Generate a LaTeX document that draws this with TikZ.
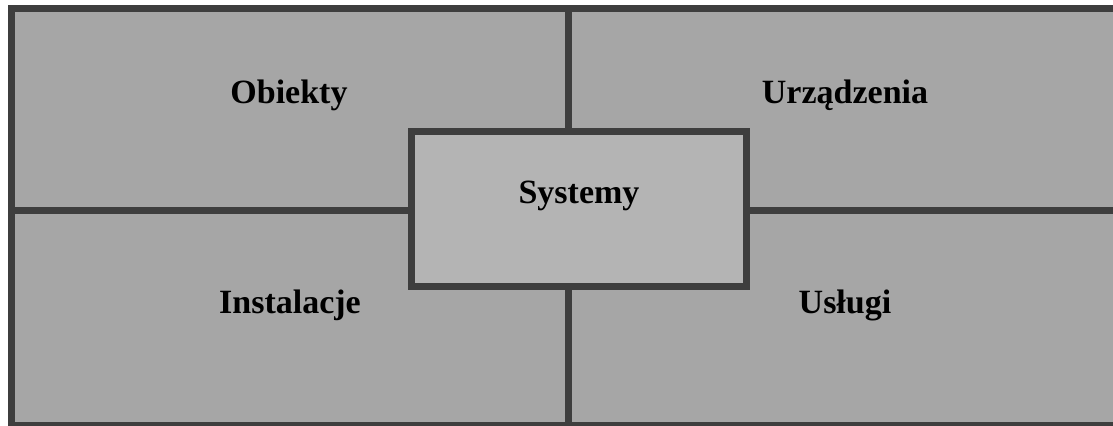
\documentclass[tikz,border=0pt]{standalone}
\usepackage{fontspec}
\setmainfont{Liberation Serif}
\definecolor{bgfill}{RGB}{166,166,166}
\definecolor{boxfill}{RGB}{180,180,180}
\definecolor{edge}{RGB}{62,62,62}
\begin{document}
\begin{tikzpicture}[x=0.5pt,y=-0.5pt,
  frame/.style={draw=edge,line width=3.2pt,fill=bgfill},
  divider/.style={draw=edge,line width=3.2pt},
  centerbox/.style={draw=edge,line width=3.4pt,fill=boxfill,minimum width=335*0.5pt,minimum height=155*0.5pt,inner sep=0pt},
  lbl/.style={font=\fontsize{17}{20}\selectfont\bfseries,anchor=base,inner sep=0pt}]
\useasboundingbox (0,0) rectangle (1113,425);
\clip (0,0) rectangle (1113,425);
\fill[white] (0,0) rectangle (1113,425);
\coordinate (tl) at (11.5,8.5);
\coordinate (br) at (1118,425.5);
\draw[frame] (tl) rectangle (br);
\coordinate (topmid) at (568.5,8.5);
\coordinate (botmid) at (568.5,425.5);
\coordinate (leftmid) at (11.5,210.5);
\coordinate (rightmid) at (1118,210.5);
\path (579,209) node[centerbox] (sys) {};
\draw[divider] (topmid) -- (topmid |- sys.north);
\draw[divider] (botmid) -- (botmid |- sys.south);
\draw[divider] (leftmid) -- (leftmid -| sys.west);
\draw[divider] (rightmid) -- (rightmid -| sys.east);
\node[lbl] (obiekty) at (289,103) {Obiekty};
\node[lbl] (urzadzenia) at (845,103) {Urządzenia};
\node[lbl] (systemy) at (579,203) {Systemy};
\node[lbl] (instalacje) at (290,313) {Instalacje};
\node[lbl] (uslugi) at (845,313) {Usługi};
\end{tikzpicture}
\end{document}
